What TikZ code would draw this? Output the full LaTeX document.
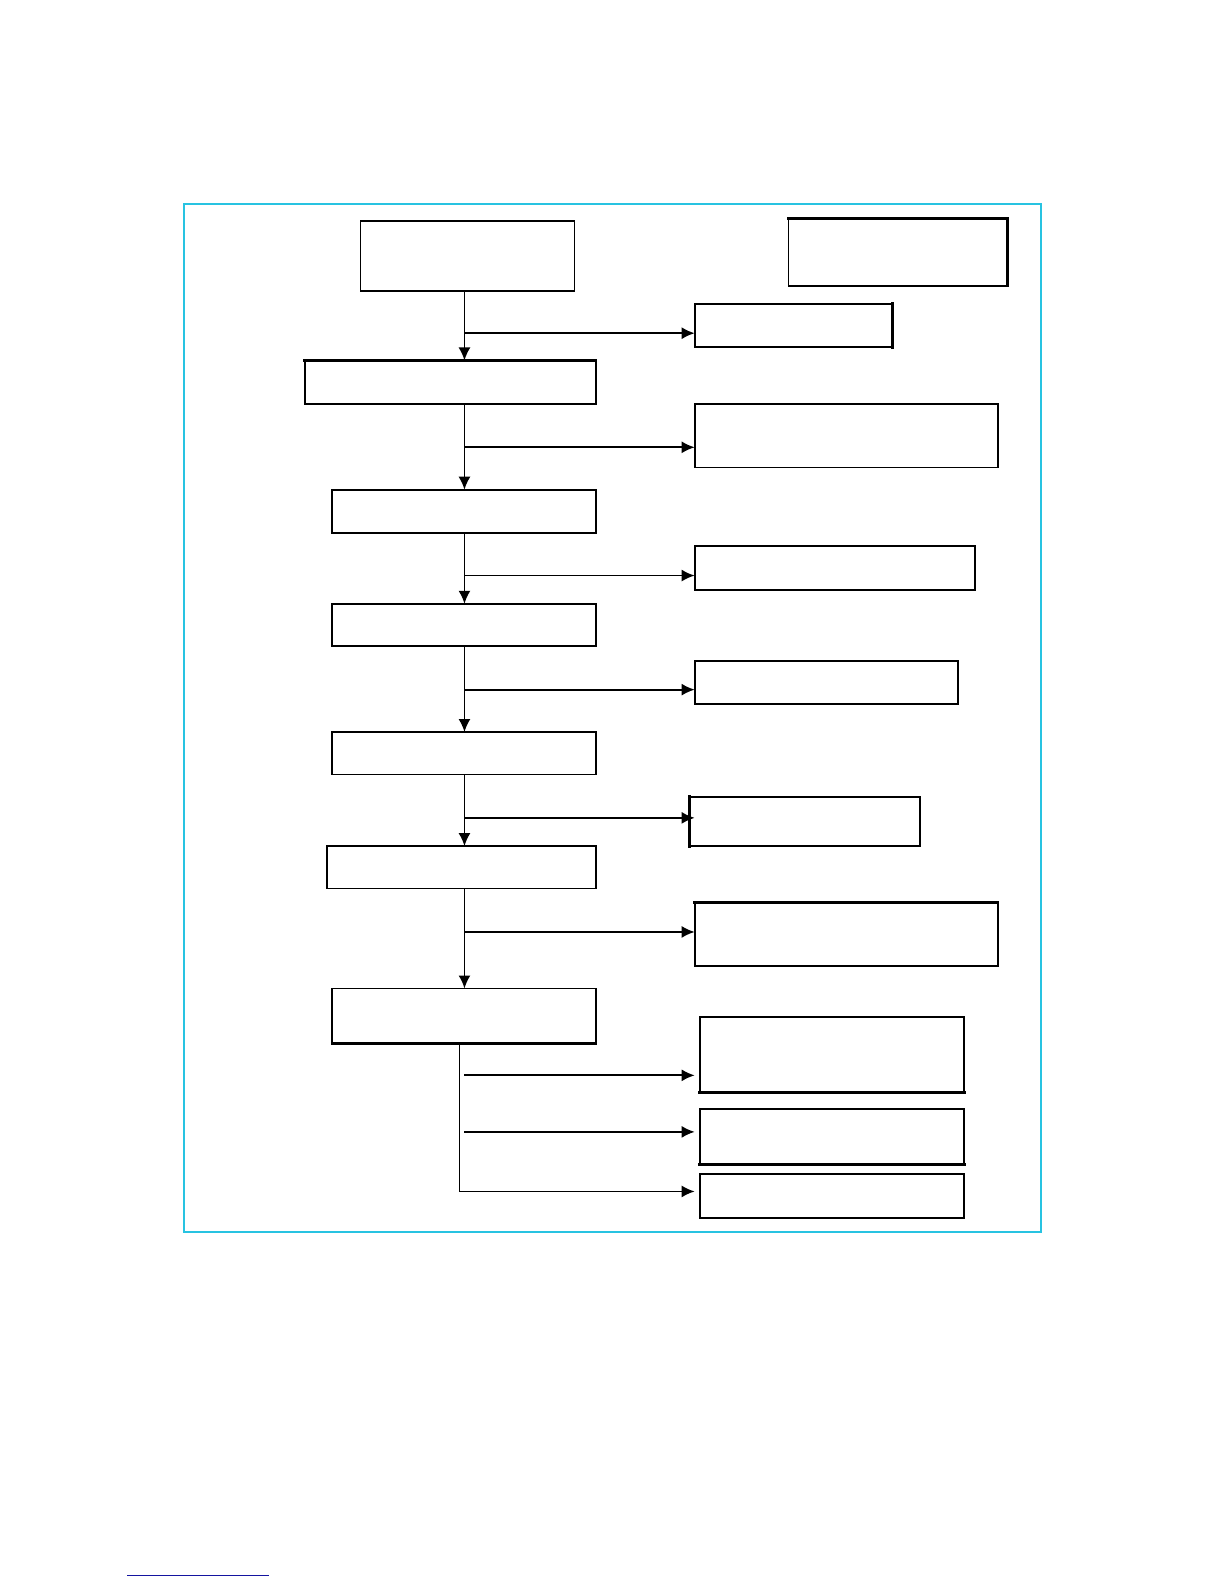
\documentclass[tikz,border=0pt]{standalone}
\usetikzlibrary{arrows.meta}
\definecolor{framecyan}{RGB}{40,195,225}
\definecolor{linkblue}{RGB}{20,20,160}
\newcommand\unitlen{0.50485pt}
\tikzset{
  box/.style={draw=black, line width=0.9pt, fill=white, inner sep=0pt, outer sep=0pt, rectangle},
  arr/.style={line width=0.9pt, -{Latex[length=6.5pt,width=6pt]}},
  plain/.style={line width=0.9pt},
  heavy/.style={line width=1.5pt, line cap=rect},
}
\newcommand\bx[5]{\node[box, minimum width={(#4-#2)*\unitlen}, minimum height={(#5-#3)*\unitlen}] (#1) at ({(#2+#4)/2},{(#3+#5)/2}) {};}
\begin{document}
\begin{tikzpicture}[x=\unitlen,y=-\unitlen]
\fill[white] (0pt,0pt) rectangle (612pt,-792pt);
% frame
\coordinate (fa) at (182,202);
\coordinate (fb) at (1031,1220);
\draw[framecyan, line width=1.2pt] (fa) rectangle (fb);
% boxes
\bx{top}{357}{219}{569}{288}
\bx{tr}{781}{216}{998}{283}
\bx{R1}{688}{301}{884}{344}
\bx{L1}{302}{357}{590}{400}
\bx{R2}{688}{400}{988}{463}
\bx{L2}{329}{485}{590}{528}
\bx{R3}{688}{541}{966}{584}
\bx{L3}{329}{598}{590}{640}
\bx{R4}{688}{655}{949}{697}
\bx{L4}{329}{725}{590}{767}
\bx{R5}{683}{789}{911}{838}
\bx{L5}{324}{838}{590}{880}
\bx{R6}{688}{894}{988}{957}
\bx{L6}{329}{979}{590}{1033}
\bx{R7}{693}{1007}{955}{1082}
\bx{R8}{693}{1098}{955}{1153}
\bx{R9}{693}{1163}{955}{1206}
% heavier edges as in the scan
\draw[heavy] (tr.north west) -- (tr.north east);
\draw[heavy] (tr.north east) -- (tr.south east);
\draw[heavy] (R1.north east) -- (R1.south east);
\draw[heavy] (L1.north west) -- (L1.north east);
\draw[heavy] (R6.north west) -- (R6.north east);
\draw[heavy] (L6.south west) -- (L6.south east);
\draw[heavy] (R7.south west) -- (R7.south east);
\draw[heavy] (R8.south west) -- (R8.south east);
\draw[heavy] (R5.north west) -- (R5.south west);
% spine
\coordinate (sp) at (460,0);
\coordinate (j1) at (460,330);
\coordinate (j2) at (460,443);
\coordinate (j3) at (460,570);
\coordinate (j4) at (460,683);
\coordinate (j5) at (460,810);
\coordinate (j6) at (460,923);
\draw[arr] (top.south -| sp) -- (L1.north -| sp);
\draw[arr] (L1.south -| sp) -- (L2.north -| sp);
\draw[arr] (L2.south -| sp) -- (L3.north -| sp);
\draw[arr] (L3.south -| sp) -- (L4.north -| sp);
\draw[arr] (L4.south -| sp) -- (L5.north -| sp);
\draw[arr] (L5.south -| sp) -- (L6.north -| sp);
\draw[arr] (j1) -- (j1 -| R1.west);
\draw[arr] (j2) -- (j2 -| R2.west);
\draw[arr] (j3) -- (j3 -| R3.west);
\draw[arr] (j4) -- (j4 -| R4.west);
\draw[arr] (j5) -- (j5 -| R2.west);
\draw[arr] (j6) -- (j6 -| R6.west);
% bottom fan
\coordinate (bs) at (455,0);
\coordinate (k1) at (460,1065);
\coordinate (k2) at (460,1121);
\coordinate (k3) at (455,1180);
\draw[plain] (L6.south -| bs) -- (k3);
\draw[arr] (k3) -- (k3 -| R2.west);
\draw[arr] (k1) -- (k1 -| R2.west);
\draw[arr] (k2) -- (k2 -| R2.west);
% footer line
\coordinate (la) at (126,1560);
\coordinate (lb) at (266,1560);
\draw[linkblue, line width=0.6pt] (la) -- (lb);
\pgfresetboundingbox
\useasboundingbox (0pt,0pt) rectangle (612pt,-792pt);
\end{tikzpicture}
\end{document}
